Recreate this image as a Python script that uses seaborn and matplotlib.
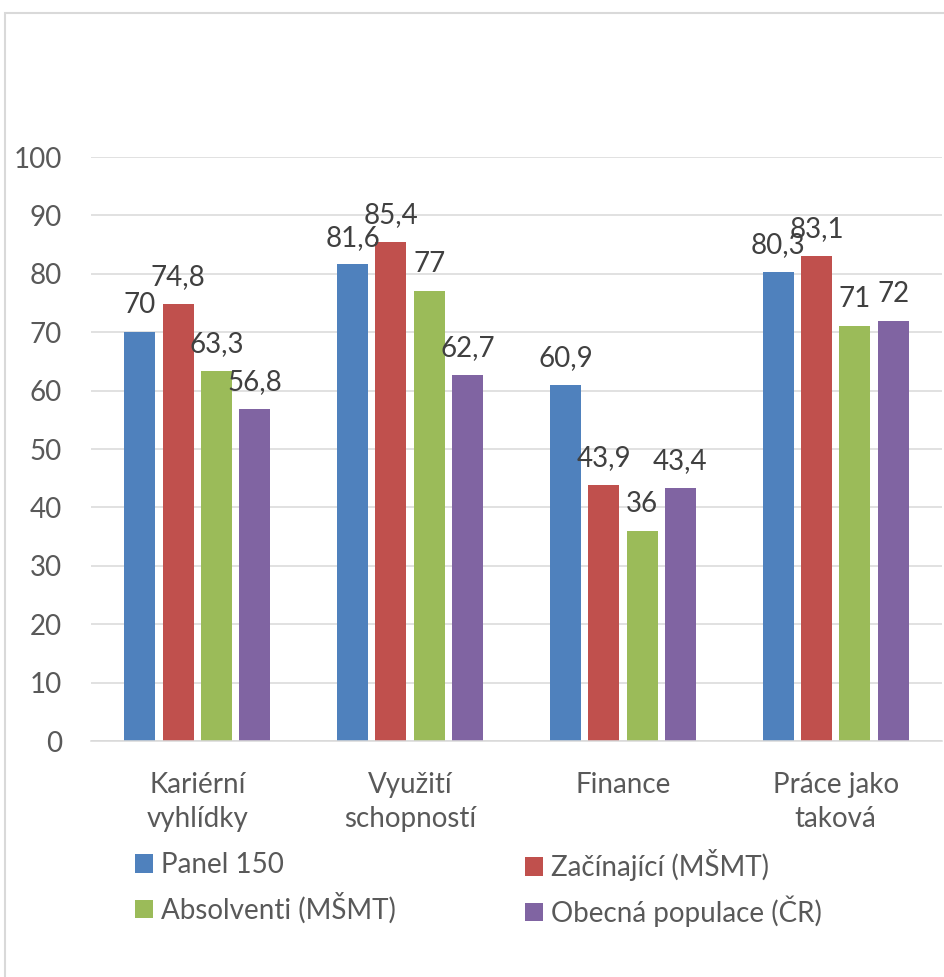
import matplotlib
matplotlib.use("Agg")
import matplotlib.pyplot as plt
from matplotlib.patches import Rectangle
import pandas as pd
import seaborn as sns

categories = ["Kariérní\nvyhlídky", "Využití\nschopností", "Finance", "Práce jako\ntaková"]
series = ["Panel 150", "Začínající (MŠMT)", "Absolventi (MŠMT)", "Obecná populace (ČR)"]
panel_150 = [70, 81.6, 60.9, 80.3]
zacinajici = [74.8, 85.4, 43.9, 83.1]
absolventi = [63.3, 77, 36, 71]
obecna_populace = [56.8, 62.7, 43.4, 72]
colors = ["#4F81BD", "#C0504D", "#9BBB59", "#8064A2"]
y_ticks = [0, 10, 20, 30, 40, 50, 60, 70, 80, 90, 100]

rows = []
for name, vals in zip(series, [panel_150, zacinajici, absolventi, obecna_populace]):
    for cat, v in zip(categories, vals):
        rows.append({"kategorie": cat, "skupina": name, "hodnota": v})
df = pd.DataFrame(rows)

sns.set_theme(style="white")
plt.rcParams["font.family"] = ["Lato", "DejaVu Sans"]
text_color = "#595959"
grid_color = "#D9D9D9"
fs = 20

fig = plt.figure(figsize=(9.44, 9.77), dpi=100)
ax = fig.add_axes([91 / 944, (977 - 741) / 977, (942 - 91) / 944, (741 - 157) / 977])

sns.barplot(data=df, x="kategorie", y="hodnota", hue="skupina",
            order=categories, hue_order=series, palette=colors,
            saturation=1, width=0.72, gap=0.19, linewidth=0, ax=ax)

handles, labels = ax.get_legend_handles_labels()
if ax.get_legend() is not None:
    ax.get_legend().remove()

for cont, vals in zip(ax.containers, [panel_150, zacinajici, absolventi, obecna_populace]):
    ax.bar_label(cont, labels=[f"{v:g}".replace(".", ",") for v in vals],
                 padding=10, fontsize=fs, color="#404040")

ax.set_ylim(0, 100)
ax.set_xlim(-0.5, 3.5)
ax.set_yticks(y_ticks)
ax.set_xlabel("")
ax.set_ylabel("")
ax.grid(axis="y", color=grid_color, linewidth=1.1)
ax.set_axisbelow(True)
for side in ["top", "right", "left"]:
    ax.spines[side].set_visible(False)
ax.spines["bottom"].set_color(grid_color)
ax.spines["bottom"].set_linewidth(1.1)
ax.tick_params(axis="y", length=0, pad=21, labelsize=fs, labelcolor=text_color)
ax.tick_params(axis="x", length=0, pad=22, labelsize=fs, labelcolor=text_color)
for t in ax.get_xticklabels():
    t.set_linespacing(1.38)

legend_kw = dict(frameon=False, fontsize=fs, labelcolor=text_color, loc="center left",
                 handlelength=0.65, handleheight=0.65, handletextpad=0.3,
                 labelspacing=0.5, borderpad=0, borderaxespad=0)
fig.legend([handles[0], handles[2]], [labels[0], labels[2]],
           bbox_to_anchor=(135 / 944, 1 - 888 / 977), **legend_kw)
fig.legend([handles[1], handles[3]], [labels[1], labels[3]],
           bbox_to_anchor=(525 / 944, 1 - 888 / 977), **legend_kw)

fig.add_artist(Rectangle((5 / 944, -0.1), 1.2, 0.1 + 1 - 13 / 977, fill=False,
                         edgecolor=grid_color, linewidth=1.5, transform=fig.transFigure,
                         clip_on=False))

fig.savefig("out.png", dpi=100)
